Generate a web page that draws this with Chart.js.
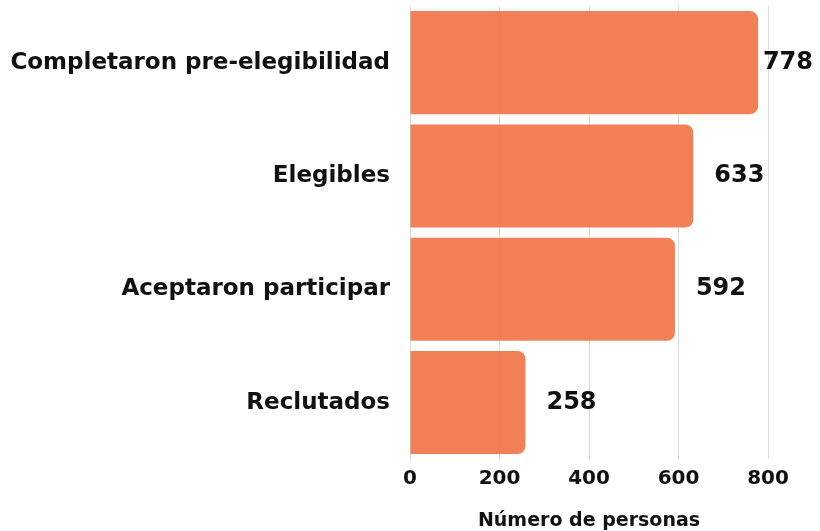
<!DOCTYPE html>
<html>
<head>
<meta charset="utf-8">
<script src="https://cdn.jsdelivr.net/npm/chart.js@4.4.1/dist/chart.umd.min.js"></script>
<style>
  html, body { margin: 0; padding: 0; background: #fff; }
  #wrap { width: 820px; height: 531px; }
</style>
</head>
<body>
<div id="wrap"><canvas id="myChart" width="820" height="531"></canvas></div>
<script>
const categories = ['Completaron pre-elegibilidad', 'Elegibles', 'Aceptaron participar', 'Reclutados'];
const personas = [778, 633, 592, 258];
const xTicks = [0, 200, 400, 600, 800];

const FONT = "'DejaVu Sans', sans-serif";

// etiquetas de valor a la derecha de cada barra
const valueLabels = {
    id: 'valueLabels',
    afterDatasetsDraw(chart) {
        const ctx = chart.ctx;
        const meta = chart.getDatasetMeta(0);
        ctx.save();
        ctx.font = 'bold 24px ' + FONT;
        ctx.fillStyle = '#111';
        ctx.textBaseline = 'middle';
        meta.data.forEach((bar, i) => {
            const txt = String(personas[i]);
            const w = ctx.measureText(txt).width;
            const x = Math.min(bar.x + 21, chart.width - w - 7);
            ctx.fillText(txt, x, bar.y);
        });
        ctx.restore();
    }
};

const ctx = document.getElementById('myChart').getContext('2d');
new Chart(ctx, {
    type: 'bar',
    data: {
        labels: categories,
        datasets: [{
            label: 'Número de personas',
            data: personas,
            backgroundColor: 'rgba(240, 118, 74, 0.93)',
            borderRadius: 8,
            borderSkipped: 'start',
            barPercentage: 0.91,
            categoryPercentage: 1.0
        }]
    },
    options: {
        indexAxis: 'y',
        responsive: false,
        animation: false,
        layout: { padding: { top: 6, right: 52, left: 10, bottom: -1 } },
        plugins: {
            legend: { display: false },
            tooltip: { enabled: false }
        },
        scales: {
            x: {
                min: 0,
                max: 800,
                afterBuildTicks: axis => { axis.ticks = xTicks.map(v => ({ value: v })); },
                grid: { color: '#dcdcdc', drawTicks: false },
                border: { display: false },
                ticks: {
                    color: '#111',
                    padding: 8,
                    font: { family: FONT, size: 20, weight: 'bold' }
                },
                title: {
                    display: true,
                    text: 'Número de personas',
                    color: '#111',
                    padding: { top: 10, bottom: 0 },
                    font: { family: FONT, size: 19, weight: 'bold' }
                }
            },
            y: {
                afterFit: scale => {
                    scale.width = 400;
                    scale.paddingTop = 0;
                    scale.paddingBottom = 0;
                },
                grid: { display: false },
                border: { display: false },
                ticks: {
                    color: '#111',
                    padding: 12,
                    font: { family: FONT, size: 23, weight: 'bold' }
                }
            }
        }
    },
    plugins: [valueLabels]
});
</script>
</body>
</html>
